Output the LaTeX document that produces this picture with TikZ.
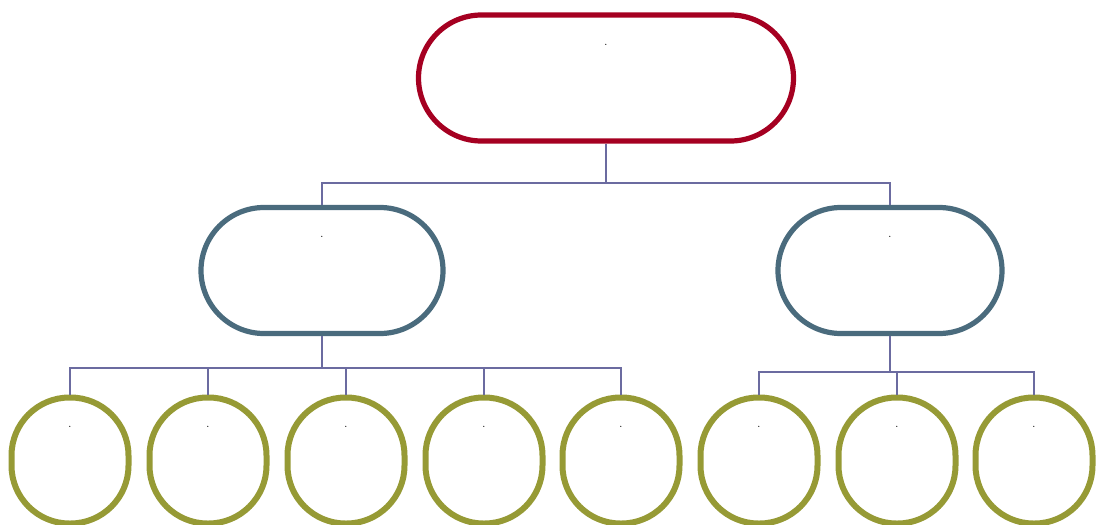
\documentclass[tikz,border=0pt]{standalone}
\usepackage{tikz}
\usetikzlibrary{positioning}
\definecolor{myred}{RGB}{165,0,33}
\definecolor{myslate}{RGB}{74,107,125}
\definecolor{myolive}{RGB}{150,154,53}
\definecolor{mylink}{RGB}{107,107,160}
\tikzset{
	rootbox/.style={draw=myred,line width=2.6pt,minimum width=187.5pt,minimum height=63pt,rounded corners=31.5pt},
	midbox/.style={draw=myslate,line width=2.6pt,minimum height=63pt,rounded corners=31.5pt},
	leafbox/.style={draw=myolive,line width=3pt,minimum width=58.5pt,minimum height=63pt,rounded corners=29pt},
	link/.style={draw=mylink,line width=0.9pt},
	dot/.style={font=\fontsize{5}{5}\selectfont,inner sep=0pt}
}
\begin{document}
\begin{tikzpicture}[x=0.5pt,y=-0.5pt]
		\useasboundingbox (0,0) rectangle (1099,525);
		
		% root box
		\node[rootbox] (root) at (606,78) {};
		\node[dot,below=15.5pt of root.north] (rootdot) {.};
		
		% second level
		\node[midbox,minimum width=121pt] (midL) at (322,270.5) {};
		\node[midbox,minimum width=112pt] (midR) at (890,270.5) {};
		\node[dot,below=15.5pt of midL.north] (midLdot) {.};
		\node[dot,below=15.5pt of midR.north] (midRdot) {.};
		
		% leaves
		\foreach \n/\x in {1/70,2/208,3/346,4/484,5/621,6/759,7/897,8/1034}{
			\node[leafbox] (leaf\n) at (\x,460.5) {};
			\node[dot,below=15.5pt of leaf\n.north] (leafdot\n) {.};
		}
		
		% links
		\draw[link] (root.south) -- ++(0,39.5) -| (midL.north);
		\draw[link] (root.south) -- ++(0,39.5) -| (midR.north);
		\foreach \n in {1,...,5}
			\draw[link] (midL.south) -- ++(0,31.5) -| (leaf\n.north);
		\foreach \n in {6,7,8}
			\draw[link] (midR.south) -- ++(0,35.5) -| (leaf\n.north);
	\end{tikzpicture}
\end{document}
